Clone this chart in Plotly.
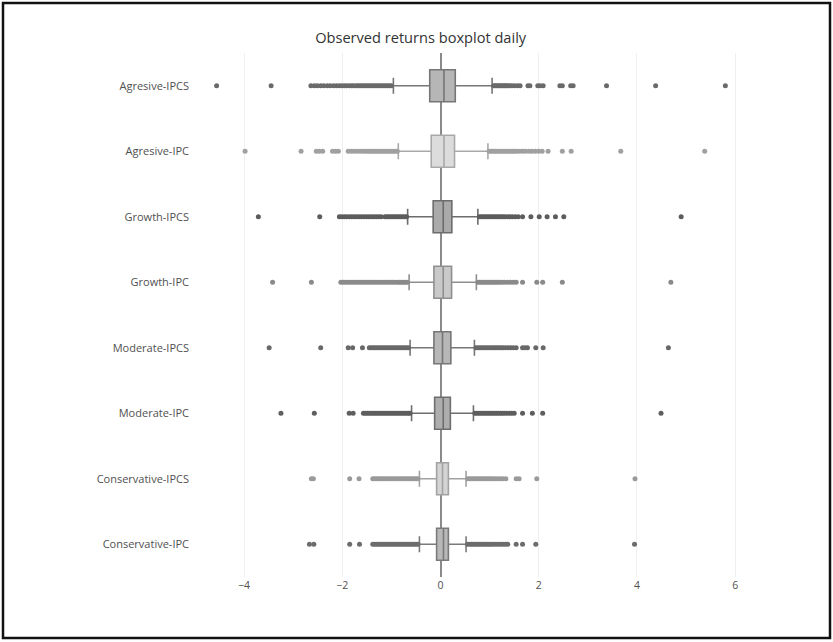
import plotly.graph_objects as go

# Portfolios, top to bottom
categories = [
    "Agresive-IPCS", "Agresive-IPC", "Growth-IPCS", "Growth-IPC",
    "Moderate-IPCS", "Moderate-IPC", "Conservative-IPCS", "Conservative-IPC",
]

# Box statistics of the daily returns (%)
q1 = [-0.22, -0.19, -0.15, -0.135, -0.135, -0.12, -0.08, -0.08]
median = [0.07, 0.07, 0.055, 0.055, 0.04, 0.055, 0.04, 0.06]
q3 = [0.30, 0.285, 0.23, 0.225, 0.21, 0.20, 0.16, 0.16]
lowerfence = [-0.96, -0.86, -0.67, -0.64, -0.62, -0.59, -0.43, -0.43]
upperfence = [1.05, 0.965, 0.76, 0.73, 0.69, 0.67, 0.52, 0.52]

# Outlying daily returns beyond the whiskers
outliers_agresive_ipcs = [
    -4.56, -3.45, -2.64, -2.57, -2.51, -2.44, -2.38, -2.31, -2.25, -2.18, -2.12,
    -2.06, -2.01, -1.96, -1.91, -1.86, -1.81, -1.77, -1.72, -1.68, -1.64, -1.60,
    -1.56, -1.52, -1.48, -1.44, -1.40, -1.36, -1.32, -1.28, -1.24, -1.20, -1.16,
    -1.12, -1.08, -1.04, -1.00,
    1.08, 1.11, 1.14, 1.17, 1.20, 1.23, 1.26, 1.29, 1.32, 1.35, 1.38, 1.42, 1.46,
    1.51, 1.57, 1.62, 1.78, 1.82, 1.98, 2.03, 2.09, 2.43, 2.48, 2.65, 2.70, 3.38,
    4.38, 5.80,
]
outliers_agresive_ipc = [
    -3.98, -2.84, -2.53, -2.47, -2.40, -2.20, -2.14, -2.08, -1.88, -1.82, -1.76,
    -1.70, -1.64, -1.58, -1.53, -1.48, -1.44, -1.40, -1.36, -1.32, -1.28, -1.24,
    -1.20, -1.16, -1.12, -1.08, -1.04, -1.00, -0.96, -0.92, -0.88,
    0.99, 1.03, 1.07, 1.11, 1.15, 1.19, 1.23, 1.27, 1.31, 1.35, 1.39, 1.43, 1.47,
    1.51, 1.55, 1.61, 1.67, 1.73, 1.80, 1.86, 1.93, 2.00, 2.07, 2.19, 2.48, 2.66,
    3.67, 5.38,
]
outliers_growth_ipcs = [
    -3.71, -2.46, -2.06, -2.01, -1.96, -1.91, -1.86, -1.81, -1.76, -1.71, -1.66,
    -1.61, -1.56, -1.51, -1.46, -1.41, -1.36, -1.31, -1.26, -1.21, -1.13, -1.09,
    -1.05, -1.01, -0.97, -0.93, -0.89, -0.85, -0.81, -0.77, -0.73, -0.69,
    0.79, 0.83, 0.87, 0.91, 0.95, 0.99, 1.03, 1.07, 1.11, 1.15, 1.19, 1.23, 1.27,
    1.31, 1.36, 1.41, 1.46, 1.52, 1.58, 1.67, 1.84, 2.01, 2.17, 2.34, 2.51, 4.90,
]
outliers_growth_ipc = [
    -3.42, -2.63, -2.03, -1.98, -1.93, -1.88, -1.83, -1.78, -1.73, -1.68, -1.63,
    -1.58, -1.53, -1.48, -1.43, -1.38, -1.33, -1.28, -1.23, -1.18, -1.13, -1.08,
    -1.03, -0.98, -0.93, -0.88, -0.84, -0.80, -0.76, -0.72, -0.68,
    0.76, 0.80, 0.84, 0.88, 0.92, 0.96, 1.00, 1.04, 1.08, 1.12, 1.16, 1.20, 1.25,
    1.30, 1.36, 1.42, 1.48, 1.54, 1.67, 1.96, 2.08, 2.48, 4.69,
]
outliers_moderate_ipcs = [
    -3.49, -2.44, -1.88, -1.79, -1.59, -1.45, -1.41, -1.37, -1.33, -1.29, -1.25,
    -1.21, -1.17, -1.13, -1.09, -1.05, -1.01, -0.97, -0.93, -0.89, -0.85, -0.81,
    -0.77, -0.73, -0.69, -0.65,
    0.72, 0.76, 0.80, 0.84, 0.88, 0.92, 0.96, 1.00, 1.04, 1.08, 1.12, 1.16, 1.20,
    1.24, 1.28, 1.33, 1.38, 1.43, 1.48, 1.54, 1.67, 1.72, 1.77, 1.94, 2.09, 4.64,
]
outliers_moderate_ipc = [
    -3.25, -2.57, -1.86, -1.78, -1.57, -1.53, -1.49, -1.45, -1.41, -1.37, -1.33,
    -1.29, -1.25, -1.21, -1.17, -1.13, -1.09, -1.05, -1.01, -0.97, -0.93, -0.89,
    -0.85, -0.81, -0.77, -0.73, -0.69, -0.65, -0.62,
    0.70, 0.74, 0.78, 0.82, 0.86, 0.90, 0.94, 0.98, 1.02, 1.06, 1.10, 1.14, 1.18,
    1.22, 1.26, 1.30, 1.35, 1.40, 1.45, 1.50, 1.67, 1.87, 2.08, 4.49,
]
outliers_conservative_ipcs = [
    -2.63, -2.59, -1.85, -1.66, -1.38, -1.34, -1.30, -1.26, -1.22, -1.18, -1.14,
    -1.10, -1.06, -1.02, -0.98, -0.94, -0.90, -0.86, -0.82, -0.78, -0.74, -0.70,
    -0.66, -0.62, -0.58, -0.54, -0.50, -0.46,
    0.55, 0.59, 0.63, 0.67, 0.71, 0.75, 0.79, 0.83, 0.87, 0.91, 0.95, 0.99, 1.03,
    1.07, 1.12, 1.17, 1.22, 1.27, 1.33, 1.54, 1.60, 1.96, 3.96,
]
outliers_conservative_ipc = [
    -2.67, -2.58, -1.85, -1.65, -1.38, -1.34, -1.30, -1.26, -1.22, -1.18, -1.14,
    -1.10, -1.06, -1.02, -0.98, -0.94, -0.90, -0.86, -0.82, -0.78, -0.74, -0.70,
    -0.66, -0.62, -0.58, -0.54, -0.50, -0.46,
    0.55, 0.59, 0.63, 0.67, 0.71, 0.75, 0.79, 0.83, 0.87, 0.91, 0.95, 0.99, 1.03,
    1.07, 1.12, 1.17, 1.22, 1.27, 1.32, 1.37, 1.54, 1.67, 1.94, 3.95,
]
outliers = [
    outliers_agresive_ipcs, outliers_agresive_ipc, outliers_growth_ipcs,
    outliers_growth_ipc, outliers_moderate_ipcs, outliers_moderate_ipc,
    outliers_conservative_ipcs, outliers_conservative_ipc,
]

# Grey tones per portfolio: outline, box fill and outlier markers
line_colors = ["#767676", "#a9a9a9", "#6c6c6c", "#8f8f8f",
               "#767676", "#6e6e6e", "#a2a2a2", "#7a7a7a"]
fill_colors = ["#b6b6b6", "#dcdcdc", "#aaaaaa", "#c9c9c9",
               "#b7b7b7", "#aeaeae", "#d4d4d4", "#b8b8b8"]
marker_colors = ["#6a6a6a", "#a0a0a0", "#5c5c5c", "#8a8a8a",
                 "#686868", "#5e5e5e", "#9a9a9a", "#6c6c6c"]

fig = go.Figure()
for i, name in enumerate(categories):
    fig.add_trace(go.Box(
        y=[name], q1=[q1[i]], median=[median[i]], q3=[q3[i]],
        lowerfence=[lowerfence[i]], upperfence=[upperfence[i]],
        orientation="h", name=name, boxpoints=False,
        line=dict(color=line_colors[i], width=1.6),
        fillcolor=fill_colors[i], showlegend=False,
    ))
    fig.add_trace(go.Scatter(
        x=outliers[i], y=[name] * len(outliers[i]), mode="markers",
        marker=dict(color=marker_colors[i], size=5),
        showlegend=False, hoverinfo="x",
    ))

L, R, T, B = 195, 88, 53, 65
W, H = 833, 642
pw, ph = W - L - R, H - T - B

fig.update_layout(
    template="none",
    width=W, height=H,
    margin=dict(l=L, r=R, t=T, b=B),
    paper_bgcolor="white", plot_bgcolor="white",
    font=dict(family="Open Sans", size=11, color="#505050"),
    title=dict(text="Observed returns boxplot daily", x=0.505, xanchor="center",
               y=1 - 38 / H, yanchor="middle",
               font=dict(size=14.6, color="#333")),
    xaxis=dict(range=[-5.0, 6.2], tickvals=[-4, -2, 0, 2, 4, 6],
               showgrid=True, gridcolor="#efefef", gridwidth=1,
               zeroline=True, zerolinecolor="#8a8a8a", zerolinewidth=1.5,
               showline=False, ticks="",
               tickfont=dict(size=10.5, color="#505050")),
    yaxis=dict(type="category", categoryorder="array",
               categoryarray=categories[::-1], range=[-0.5, 7.5],
               showgrid=False, zeroline=False, showline=False, ticks="",
               ticklabelstandoff=5,
               tickfont=dict(size=11, color="#505050")),
    shapes=[dict(
        type="rect", xref="paper", yref="paper",
        x0=(3 - L) / pw, x1=(830 - L) / pw,
        y0=(H - B - 638) / ph, y1=(H - B - 3) / ph,
        line=dict(color="#111", width=2.5), fillcolor="rgba(0,0,0,0)",
        layer="above",
    )],
)

fig.write_html("out.html")
